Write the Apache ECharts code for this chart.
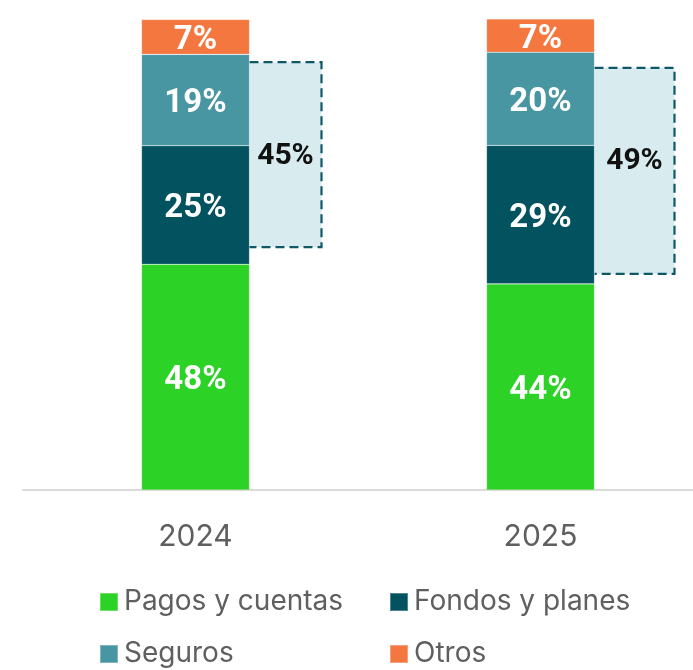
<!DOCTYPE html>
<html>
<head>
<meta charset="utf-8">
<script src="https://cdn.jsdelivr.net/npm/echarts@6/dist/echarts.min.js"></script>
<style>
  html, body { margin: 0; padding: 0; background: #fff; }
  #chart { width: 693px; height: 670px; }
</style>
</head>
<body>
<div id="chart"></div>
<script>
// datos (% de cada año)
var years = ['2024', '2025']
var pagos = [47.95, 43.8]
var fondos = [25.2, 29.4]
var seguros = [19.4, 19.8]
var otros = [7.4, 7.1]

// recuadro punteado (fondos + seguros)
var boxLow = [51.6, 45.9]
var boxHigh = [90.9, 89.7]
var boxLabels = ['45%', '49%']

var colors = ['#2DD226', '#02535F', '#4896A2', '#F4773F']
var boxWidths = [72, 80]

var chart = echarts.init(document.getElementById('chart'))

function barSeries(name, data, color) {
  return {
    name: name,
    type: 'bar',
    stack: 'total',
    barWidth: 108,
    data: data,
    z: 3,
    itemStyle: { color: color, borderColor: 'rgba(255,255,255,0.3)', borderWidth: 0.6 },
    label: {
      show: true,
      position: 'inside',
      offset: [0, 4],
      color: '#fff',
      fontFamily: 'Roboto',
      fontWeight: 'bold',
      fontSize: 33,
      formatter: function (p) { return Math.round(p.value) + '%' }
    }
  }
}

var boxData = years.map(function (y, i) { return [i, boxLow[i], boxHigh[i]] })

var legendBase = {
  orient: 'vertical',
  top: 588,
  padding: 0,
  icon: 'rect',
  itemWidth: 18,
  itemHeight: 18,
  itemGap: 24,
  textStyle: { color: '#5f5f5f', fontFamily: 'Inter', fontSize: 28, padding: [0, 0, 0, 1] }
}

var option = {
  animation: false,
  grid: { left: 23, right: -20, top: 19.3, bottom: 180, outerBoundsMode: 'none' },
  xAxis: {
    type: 'category',
    data: years,
    axisTick: { show: false },
    axisLine: { lineStyle: { color: '#dadada', width: 2 } },
    axisLabel: { color: '#5f5f5f', fontFamily: 'Inter', fontSize: 30, margin: 32 }
  },
  yAxis: { type: 'value', min: 0, max: 100, show: false },
  legend: [
    Object.assign({}, legendBase, { left: 99, data: ['Pagos y cuentas', 'Seguros'] }),
    Object.assign({}, legendBase, { left: 389, data: ['Fondos y planes', 'Otros'] })
  ],
  series: [
    barSeries('Pagos y cuentas', pagos, colors[0]),
    barSeries('Fondos y planes', fondos, colors[1]),
    barSeries('Seguros', seguros, colors[2]),
    barSeries('Otros', otros, colors[3]),
    {
      type: 'custom',
      name: 'recuadro',
      z: 1,
      data: boxData,
      renderItem: function (params, api) {
        var i = api.value(0)
        var pLow = api.coord([i, api.value(1)])
        var pHigh = api.coord([i, api.value(2)])
        var x0 = pLow[0] + 54
        var w = boxWidths[i]
        var top = pHigh[1]
        var bottom = pLow[1]
        return {
          type: 'group',
          children: [
            {
              type: 'rect',
              shape: { x: x0, y: top, width: w, height: bottom - top },
              style: { fill: '#D8EBEE' }
            },
            {
              type: 'polyline',
              shape: { points: [[x0, top], [x0 + w, top], [x0 + w, bottom], [x0, bottom]] },
              style: { stroke: '#0F5866', lineWidth: 2.2, lineDash: [9, 5], fill: null }
            },
            {
              type: 'text',
              style: {
                x: x0 + w / 2,
                y: top + 94,
                text: boxLabels[i],
                align: 'center',
                verticalAlign: 'middle',
                fill: '#111',
                font: 'bold 30px Roboto'
              }
            }
          ]
        }
      }
    }
  ]
}

option && chart.setOption(option)
</script>
</body>
</html>
